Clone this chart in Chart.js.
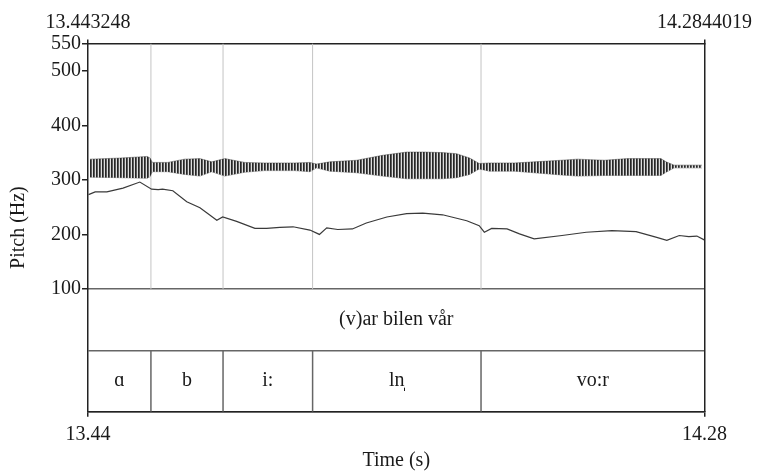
<!DOCTYPE html>
<html>
<head>
<meta charset="utf-8">
<script src="https://cdn.jsdelivr.net/npm/chart.js@4.4.0/dist/chart.umd.min.js"></script>
<style>
    html, body { margin: 0; padding: 0; background: #fff; }
    #wrap { width: 757px; height: 473px; }
</style>
</head>
<body>
<div id="wrap"><canvas id="pitchChart" width="757" height="473"></canvas></div>
<script>
// Time range of the selection (s)
const startTime = 13.443248;
const endTime = 14.2844019;
const topTickLabels = ['13.443248', '14.2844019'];
const bottomTickLabels = ['13.44', '14.28'];
const pitchTicks = [100, 200, 300, 400, 500, 550];

// Pitch contour
const pitchTime = [13.444, 13.453, 13.469, 13.491, 13.514, 13.530, 13.539, 13.545, 13.559, 13.578,
    13.596, 13.619, 13.627, 13.646, 13.671, 13.687, 13.705, 13.723, 13.746, 13.759,
    13.769, 13.784, 13.804, 13.823, 13.851, 13.878, 13.900, 13.927, 13.960, 13.977,
    13.984, 13.994, 14.015, 14.032, 14.052, 14.090, 14.123, 14.158, 14.191, 14.218,
    14.233, 14.250, 14.263, 14.274, 14.284];
const pitchHz = [273, 278, 278, 285, 296, 283, 282, 283, 280, 260,
    249, 226, 232, 224, 211, 211, 213, 214, 208, 200,
    212, 209, 210, 221, 232, 238, 239, 236, 225, 216,
    204, 211, 210, 201, 192, 198, 204, 207, 205, 195,
    189, 198, 196, 197, 190];

// Waveform envelope (drawn on the pitch scale)
const waveTime = [13.446, 13.487, 13.524, 13.528, 13.531, 13.552, 13.575, 13.596, 13.612, 13.630,
    13.657, 13.684, 13.725, 13.746, 13.755, 13.773, 13.810, 13.845, 13.878, 13.902,
    13.927, 13.946, 13.964, 13.977, 13.991, 14.025, 14.052, 14.089, 14.111, 14.148,
    14.179, 14.225, 14.232, 14.243, 14.281];
const waveUpper = [338, 340, 343, 340, 332, 332, 338, 339, 333, 339,
    332, 331, 331, 332, 329, 333, 336, 345, 351, 351,
    350, 348, 340, 330, 331, 331, 333, 336, 338, 336,
    339, 339, 333, 327, 327];
const waveLower = [305, 304, 303, 306, 315, 315, 310, 307, 315, 307,
    314, 317, 317, 315, 322, 316, 313, 307, 302, 302,
    302, 304, 310, 320, 316, 316, 313, 309, 307, 308,
    308, 308, 314, 322, 322];

// Annotation tiers
const boundaries = [13.5291, 13.6275, 13.7497, 13.9795];
const wordLabel = '(v)ar bilen vår';
const phoneLabels = ['ɑ', 'b', 'i:', 'ln̩', 'vo:r'];

const FONT = 'Liberation Serif';
const INK = '#1a1a1a';

const canvas = document.getElementById('pitchChart');
const ctx = canvas.getContext('2d');

// hatch pattern to look like the dense oscillation of the waveform
const pc = document.createElement('canvas');
pc.width = 3; pc.height = 1;
const pctx = pc.getContext('2d');
pctx.fillStyle = '#262626';
pctx.fillRect(0, 0, 1, 1);
pctx.fillStyle = '#5c5c5c';
pctx.fillRect(1, 0, 1, 1);
pctx.fillStyle = '#dedede';
pctx.fillRect(2, 0, 1, 1);
const wavePattern = ctx.createPattern(pc, 'repeat');

const toXY = (xs, ys) => xs.map((x, i) => ({ x: x, y: ys[i] }));

const datasets = [
    {
        data: toXY(waveTime, waveUpper), xAxisID: 'x', yAxisID: 'y',
        borderColor: 'rgba(60,60,60,0.45)', borderWidth: 1, pointRadius: 0,
        backgroundColor: wavePattern, fill: '+1'
    },
    {
        data: toXY(waveTime, waveLower), xAxisID: 'x', yAxisID: 'y',
        borderColor: 'rgba(60,60,60,0.45)', borderWidth: 1, pointRadius: 0, fill: false
    },
    {
        data: toXY(pitchTime, pitchHz), xAxisID: 'x', yAxisID: 'y',
        borderColor: '#3a3a3a', borderWidth: 1.2, pointRadius: 0, fill: false
    }
];

// boundary lines: light in the pitch area, darker in the phone tier
boundaries.forEach(b => {
    datasets.push({
        data: [{ x: b, y: 100 }, { x: b, y: 550 }], xAxisID: 'x', yAxisID: 'y',
        borderColor: '#c4c4c4', borderWidth: 1, pointRadius: 0, fill: false
    });
    datasets.push({
        data: [{ x: b, y: 0 }, { x: b, y: 1 }], xAxisID: 'x', yAxisID: 'tier',
        borderColor: '#666', borderWidth: 1.5, pointRadius: 0, fill: false
    });
});

const tierText = {
    id: 'tierText',
    afterDraw(chart) {
        const c = chart.ctx;
        const xs = chart.scales.x;
        const ts = chart.scales.tier;
        const area = chart.chartArea;
        c.save();
        c.font = '20px "' + FONT + '"';
        c.fillStyle = INK;
        c.textAlign = 'center';
        c.textBaseline = 'middle';
        c.fillText(wordLabel, (xs.left + xs.right) / 2, ts.getPixelForValue(1.5));
        const edges = [startTime, ...boundaries, endTime];
        phoneLabels.forEach((lab, i) => {
            const cx = (xs.getPixelForValue(edges[i]) + xs.getPixelForValue(edges[i + 1])) / 2;
            c.fillText(lab, cx, ts.getPixelForValue(0.5));
        });
        // y axis title, centred on the whole frame
        c.translate(18.5, (area.top + area.bottom) / 2);
        c.rotate(-Math.PI / 2);
        c.fillText('Pitch (Hz)', 0, 0);
        c.restore();
    }
};

const tickFont = { family: FONT, size: 20 };

new Chart(ctx, {
    type: 'line',
    data: { datasets: datasets },
    options: {
        responsive: false,
        animation: false,
        layout: { padding: 0 },
        plugins: { legend: { display: false }, tooltip: { enabled: false } },
        scales: {
            x: {
                type: 'linear', position: 'bottom', min: startTime, max: endTime,
                afterBuildTicks: s => { s.ticks = [{ value: startTime }, { value: endTime }]; },
                ticks: { autoSkip: false, maxRotation: 0, padding: 6, color: INK, font: tickFont,
                    callback: (v, i) => bottomTickLabels[i] },
                grid: { drawOnChartArea: false, tickLength: 5, color: '#222', lineWidth: 1.5 },
                border: { display: true, color: '#222', width: 1.5 },
                title: { display: true, text: 'Time (s)', color: INK, font: tickFont, padding: { top: 0, bottom: 0 } },
                afterFit: s => { s.height = 61.3; }
            },
            xTop: {
                type: 'linear', position: 'top', min: startTime, max: endTime,
                afterBuildTicks: s => { s.ticks = [{ value: startTime }, { value: endTime }]; },
                ticks: { autoSkip: false, maxRotation: 0, padding: 5, color: INK, font: tickFont,
                    callback: (v, i) => topTickLabels[i] },
                grid: { drawOnChartArea: false, tickLength: 4, color: '#222', lineWidth: 1.5 },
                border: { display: true, color: '#222', width: 1.5 },
                afterFit: s => { s.height = 43.5; }
            },
            tier: {
                type: 'linear', position: 'left', stack: 'v', stackWeight: 1, min: 0, max: 2,
                afterBuildTicks: s => { s.ticks = [0, 1, 2].map(v => ({ value: v })); },
                ticks: { display: false },
                grid: { drawOnChartArea: true, drawTicks: false, color: '#666', lineWidth: 1.5 },
                border: { display: true, color: '#222', width: 1.5 },
                afterFit: s => { s.width = 88; }
            },
            y: {
                type: 'linear', position: 'left', stack: 'v', stackWeight: 2, min: 100, max: 550,
                afterBuildTicks: s => { s.ticks = pitchTicks.map(v => ({ value: v })); },
                ticks: { autoSkip: false, padding: 1, color: INK, font: tickFont },
                grid: { drawOnChartArea: false, tickLength: 6, color: '#222', lineWidth: 1.5 },
                border: { display: true, color: '#222', width: 1.5 },
                afterFit: s => { s.width = 88; }
            },
            frame: {
                type: 'linear', position: 'right', min: 0, max: 1,
                ticks: { display: false },
                grid: { display: false },
                border: { display: true, color: '#222', width: 1.5 },
                afterFit: s => { s.width = 51.5; }
            }
        }
    },
    plugins: [tierText]
});
</script>
</body>
</html>
